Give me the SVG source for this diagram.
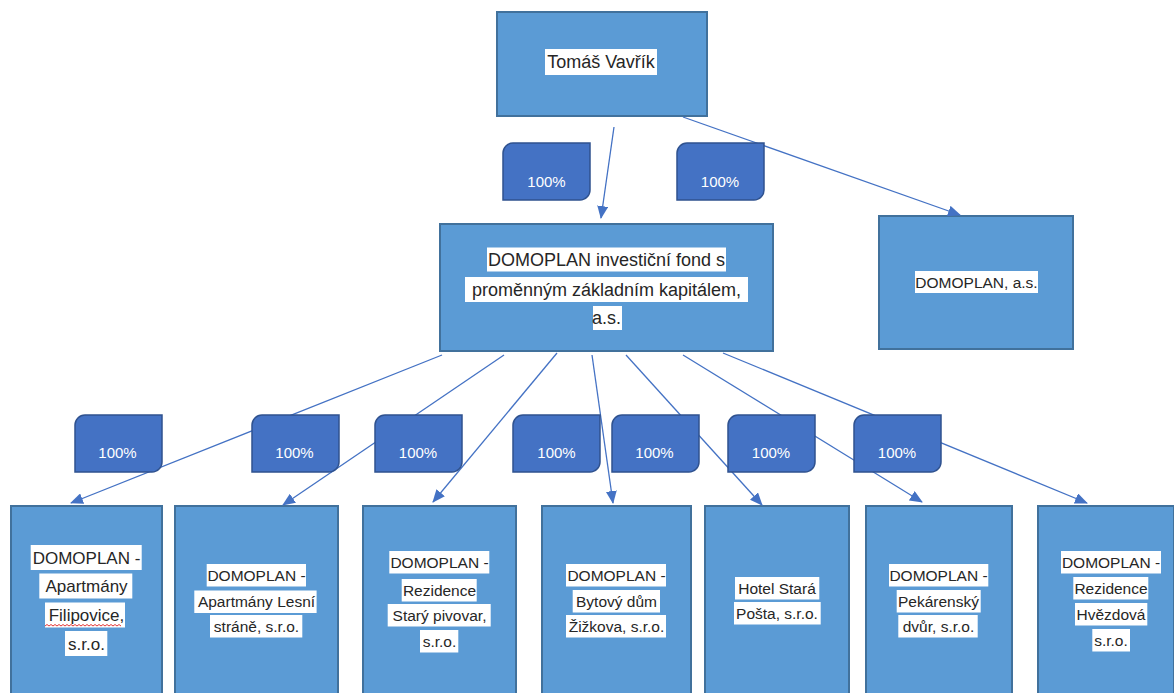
<svg xmlns="http://www.w3.org/2000/svg" width="1174" height="693" viewBox="0 0 1174 693">
<style>
.box{fill:#5B9BD5;stroke:#41719C;stroke-width:2}
.hl{fill:#ffffff}
.t{font-family:"Liberation Sans",Arial,sans-serif;fill:#262626;text-anchor:middle}
.big{font-size:18px}
.mid{font-size:15.5px}
.b1{font-size:17px}
.con{stroke:#4472C4;stroke-width:1.3;fill:none;marker-end:url(#arr)}
.lab{fill:#4472C4;stroke:#2F528F;stroke-width:1.5}
.lt{font-family:"Liberation Sans",Arial,sans-serif;font-size:15px;fill:#ffffff;text-anchor:middle}
</style>
<defs>
<marker id="arr" markerUnits="userSpaceOnUse" markerWidth="13" markerHeight="11" refX="12" refY="5.5" orient="auto">
<path d="M0,0 L13,5.5 L0,11 z" fill="#4472C4"/>
</marker>
<path id="lbl" d="M10,0 H87 V47 A10,10 0 0 1 77,57 H0 V10 A10,10 0 0 1 10,0 Z"/>
</defs>
<rect width="1174" height="693" fill="#ffffff"/>

<g id="n-vavrik">
<rect class="box" x="497" y="12" width="210" height="104"/>
<rect class="hl" x="545" y="49" width="112" height="26"/>
<text class="t big" x="601" y="68">Tomáš Vavřík</text>
</g>

<g id="n-fond">
<rect class="box" x="440" y="224" width="333" height="127"/>
<rect class="hl" x="487" y="247.5" width="239" height="24"/>
<rect class="hl" x="465" y="277" width="283" height="25"/>
<rect class="hl" x="593" y="306" width="29" height="24"/>
<text class="t big" x="606.5" y="266">DOMOPLAN investiční fond s</text>
<text class="t big" x="606.5" y="295.5">proměnným základním kapitálem,</text>
<text class="t big" x="606.5" y="324">a.s.</text>
</g>

<g id="n-as">
<rect class="box" x="879" y="216" width="194" height="133"/>
<rect class="hl" x="915" y="271" width="123" height="22"/>
<text class="t mid" x="976.5" y="287.5">DOMOPLAN, a.s.</text>
</g>

<g id="n-filipovice">
<rect class="box" x="11" y="506" width="151" height="200"/>
<rect class="hl" x="30.7" y="545" width="111" height="25"/>
<rect class="hl" x="39.3" y="573.5" width="93" height="25"/>
<rect class="hl" x="45" y="602.5" width="80" height="25"/>
<rect class="hl" x="65" y="631" width="42.3" height="25"/>
<text class="t b1" x="86.5" y="563.5">DOMOPLAN -</text>
<text class="t b1" x="86.5" y="592">Apartmány</text>
<text class="t b1" x="86.5" y="621">Filipovice,</text>
<text class="t b1" x="86.5" y="649.5">s.r.o.</text>
<path d="M45,626 l2,-1.5 l2,1.5 l2,-1.5 l2,1.5 l2,-1.5 l2,1.5 l2,-1.5 l2,1.5 l2,-1.5 l2,1.5 l2,-1.5 l2,1.5 l2,-1.5 l2,1.5 l2,-1.5 l2,1.5 l2,-1.5 l2,1.5 l2,-1.5 l2,1.5 l2,-1.5 l2,1.5 l2,-1.5 l2,1.5 l2,-1.5 l2,1.5 l2,-1.5 l2,1.5 l2,-1.5 l2,1.5 l2,-1.5 l2,1.5 l2,-1.5 l2,1.5 l2,-1.5 l2,1.5 l2,-1.5 l2,1.5" fill="none" stroke="#e02020" stroke-width="0.9"/>
</g>

<g id="n-lesni">
<rect class="box" x="175" y="506" width="163" height="200"/>
<rect class="hl" x="206.7" y="564" width="99.3" height="22.5"/>
<rect class="hl" x="194.3" y="590.5" width="122.3" height="22.5"/>
<rect class="hl" x="210" y="615" width="92.3" height="22.5"/>
<text class="t mid" x="256.5" y="580.5">DOMOPLAN -</text>
<text class="t mid" x="256.5" y="607">Apartmány Lesní</text>
<text class="t mid" x="256.5" y="631.5">stráně, s.r.o.</text>
</g>

<g id="n-pivovar">
<rect class="box" x="363" y="506" width="153" height="200"/>
<rect class="hl" x="389.3" y="551" width="100" height="22.5"/>
<rect class="hl" x="401.7" y="579" width="75" height="22.5"/>
<rect class="hl" x="387.7" y="604" width="103" height="22.5"/>
<rect class="hl" x="420" y="630" width="38.3" height="22.5"/>
<text class="t mid" x="439.5" y="567.5">DOMOPLAN -</text>
<text class="t mid" x="439.5" y="595.5">Rezidence</text>
<text class="t mid" x="439.5" y="620.5">Starý pivovar,</text>
<text class="t mid" x="439.5" y="646.5">s.r.o.</text>
</g>

<g id="n-zizkova">
<rect class="box" x="542" y="506" width="149" height="200"/>
<rect class="hl" x="566" y="564" width="100" height="22.5"/>
<rect class="hl" x="572.7" y="590" width="87.3" height="22.5"/>
<rect class="hl" x="566" y="615" width="100" height="22.5"/>
<text class="t mid" x="616.5" y="580.5">DOMOPLAN -</text>
<text class="t mid" x="616.5" y="606.5">Bytový dům</text>
<text class="t mid" x="616.5" y="631.5">Žižkova, s.r.o.</text>
</g>

<g id="n-posta">
<rect class="box" x="705" y="506" width="144" height="200"/>
<rect class="hl" x="735" y="577" width="84.3" height="22.5"/>
<rect class="hl" x="734" y="602" width="86.7" height="22.5"/>
<text class="t mid" x="777" y="593.5">Hotel Stará</text>
<text class="t mid" x="777" y="618.5">Pošta, s.r.o.</text>
</g>

<g id="n-pekarensky">
<rect class="box" x="866" y="506" width="146" height="200"/>
<rect class="hl" x="889" y="564" width="99.3" height="22.5"/>
<rect class="hl" x="896.7" y="590" width="84" height="22.5"/>
<rect class="hl" x="898.3" y="615" width="79.4" height="22.5"/>
<text class="t mid" x="938.5" y="580.5">DOMOPLAN -</text>
<text class="t mid" x="938.5" y="606.5">Pekárenský</text>
<text class="t mid" x="938.5" y="631.5">dvůr, s.r.o.</text>
</g>

<g id="n-hvezdova">
<rect class="box" x="1038" y="506" width="136" height="200"/>
<rect class="hl" x="1061" y="551" width="100" height="22.5"/>
<rect class="hl" x="1073.3" y="577" width="75" height="22.5"/>
<rect class="hl" x="1075" y="603" width="72.3" height="22.5"/>
<rect class="hl" x="1092.3" y="629" width="37.7" height="22.5"/>
<text class="t mid" x="1111" y="567.5">DOMOPLAN -</text>
<text class="t mid" x="1111" y="593.5">Rezidence</text>
<text class="t mid" x="1111" y="619.5">Hvězdová</text>
<text class="t mid" x="1111" y="645.5">s.r.o.</text>
</g>

<g id="connectors">
<line class="con" x1="614" y1="127" x2="601" y2="218"/>
<line class="con" x1="683" y1="117" x2="960" y2="215"/>
<line class="con" x1="442" y1="355" x2="71" y2="503"/>
<line class="con" x1="504" y1="355" x2="283" y2="505"/>
<line class="con" x1="557" y1="353" x2="433" y2="502"/>
<line class="con" x1="592" y1="355" x2="613" y2="503"/>
<line class="con" x1="626" y1="355" x2="762" y2="505"/>
<line class="con" x1="683" y1="355" x2="922" y2="502"/>
<line class="con" x1="723" y1="353" x2="1087" y2="503"/>
</g>

<g id="labels">
<g id="lbl-t1"><use href="#lbl" class="lab" x="503" y="143"/><text class="lt" x="546.5" y="186.5">100%</text></g>
<g id="lbl-t2"><use href="#lbl" class="lab" x="677" y="143"/><text class="lt" x="720" y="186.5">100%</text></g>
<g id="lbl-b1"><use href="#lbl" class="lab" x="75" y="415"/><text class="lt" x="117.5" y="458">100%</text></g>
<g id="lbl-b2"><use href="#lbl" class="lab" x="252" y="415"/><text class="lt" x="294.5" y="458">100%</text></g>
<g id="lbl-b3"><use href="#lbl" class="lab" x="375" y="415"/><text class="lt" x="418" y="458">100%</text></g>
<g id="lbl-b4"><use href="#lbl" class="lab" x="513" y="415"/><text class="lt" x="556.5" y="458">100%</text></g>
<g id="lbl-b5"><use href="#lbl" class="lab" x="612" y="415"/><text class="lt" x="654.5" y="458">100%</text></g>
<g id="lbl-b6"><use href="#lbl" class="lab" x="728" y="415"/><text class="lt" x="771" y="458">100%</text></g>
<g id="lbl-b7"><use href="#lbl" class="lab" x="854" y="415"/><text class="lt" x="897" y="458">100%</text></g>
</g>
</svg>
